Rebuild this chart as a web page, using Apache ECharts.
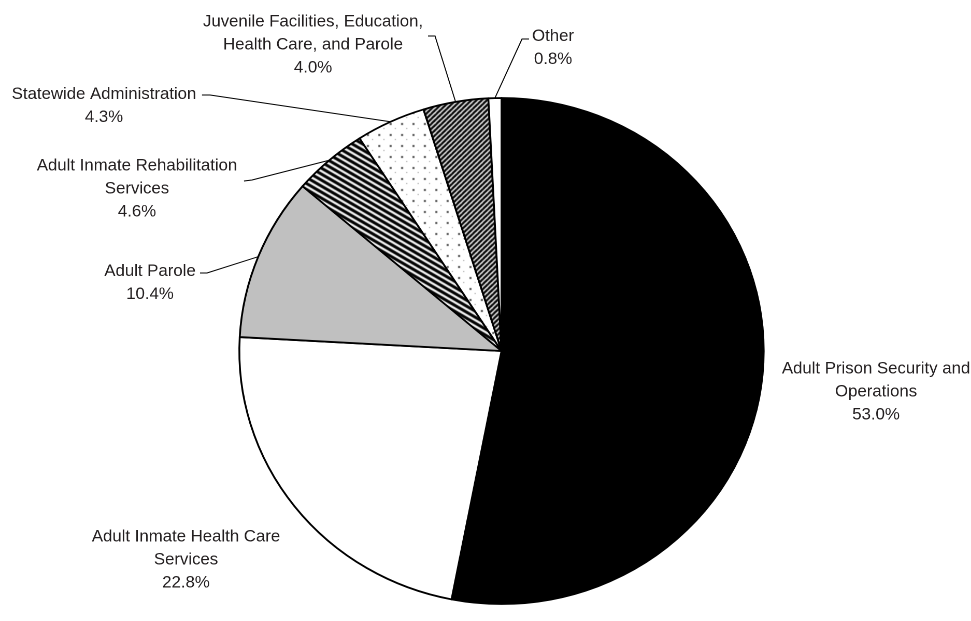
<!DOCTYPE html>
<html>
<head>
<meta charset="utf-8">
<title>Budget by Program</title>
<script src="https://cdn.jsdelivr.net/npm/echarts@6/dist/echarts.min.js"></script>
<style>
  html, body { margin: 0; padding: 0; background: #fff; overflow: hidden; }
  /* the chart is laid out slightly narrower, then widened to fill the page */
  #chart { width: 937px; height: 621px; transform: scaleX(1.0363); transform-origin: 0 0; }
</style>
</head>
<body>
<div id="chart"></div>
<script>
// Program names (line breaks as printed) and their shares of the budget, in percent
const categories = [
  'Adult Prison Security and\nOperations',
  'Adult Inmate Health Care\nServices',
  'Adult Parole',
  'Adult Inmate Rehabilitation\nServices',
  'Statewide Administration',
  'Juvenile Facilities, Education,\nHealth Care, and Parole',
  'Other'
];
const shares = [53.0, 22.8, 10.4, 4.6, 4.3, 4.0, 0.8];

// horizontal widening applied by the stylesheet; page x -> chart x
const STRETCH = 971 / 937;
function cx(x) { return x / STRETCH; }

// ---- fill patterns -------------------------------------------------------
function makeTile(w, h, draw) {
  const c = document.createElement('canvas');
  c.width = w; c.height = h;
  const ctx = c.getContext('2d');
  ctx.fillStyle = '#fff';
  ctx.fillRect(0, 0, w, h);
  draw(ctx, w, h);
  return { image: c, repeat: 'repeat' };
}

// bold diagonal stripes running down to the right
const stripeFill = makeTile(10, 6, function (ctx, w, h) {
  ctx.strokeStyle = '#000';
  ctx.lineWidth = 3;
  [-h, 0, h].forEach(function (dy) {
    ctx.beginPath();
    ctx.moveTo(-2, dy - 2 * h / w);
    ctx.lineTo(w + 2, dy + h + 2 * h / w);
    ctx.stroke();
  });
});

// sparse dot grid
const dotFill = makeTile(11, 11, function (ctx) {
  ctx.fillStyle = '#555';
  ctx.fillRect(2, 2, 2, 2);
  ctx.fillStyle = '#999';
  ctx.fillRect(7, 7, 1, 1);
});

// fine hatching running up to the right
const hatchFill = makeTile(5, 5, function (ctx, w, h) {
  ctx.strokeStyle = '#000';
  ctx.lineWidth = 2.2;
  [-w, 0, w].forEach(function (dx) {
    ctx.beginPath();
    ctx.moveTo(dx - 1, h + 1);
    ctx.lineTo(dx + w + 1, -1);
    ctx.stroke();
  });
});

const sliceFills = ['#000000', '#ffffff', '#c0c0c0', stripeFill, dotFill, hatchFill, '#ffffff'];
const showLeader = [false, false, true, true, true, true, true];

// label anchor on the page (centre x, middle y) for each slice
const labelAnchors = [
  [876, 392], [186, 560], [150, 283], [137, 189], [104, 106], [313, 45], [553, 48]
];
// bend and end of each leader line on the page, near its label
const leaderEnds = [
  null, null,
  [[207, 273], [200, 273]],
  [[252, 180], [244, 181]],
  [[210, 95], [202, 95]],
  [[435, 36], [428, 36]],
  [[522, 39], [529, 39]]
];

const chart = echarts.init(document.getElementById('chart'), null, { renderer: 'canvas', devicePixelRatio: 2 });

chart.setOption({
  animation: false,
  backgroundColor: '#ffffff',
  series: [{
    type: 'pie',
    center: [cx(501.5), 351],
    radius: 253,
    startAngle: 90,
    clockwise: true,
    avoidLabelOverlap: false,
    itemStyle: { borderColor: '#000', borderWidth: 1.8 },
    emphasis: { disabled: true },
    label: {
      show: true,
      position: 'outside',
      fontFamily: '"Liberation Sans", Arial, sans-serif',
      fontSize: 16.2,
      lineHeight: 23,
      color: '#231f20',
      formatter: function (p) { return p.name + '\n' + p.value.toFixed(1) + '%'; }
    },
    labelLine: {
      show: true,
      length: 20,
      length2: 10,
      smooth: false,
      lineStyle: { color: '#000', width: 1 }
    },
    labelLayout: function (p) {
      const a = labelAnchors[p.dataIndex];
      const out = { x: cx(a[0]), y: a[1], align: 'center', verticalAlign: 'middle' };
      const ends = leaderEnds[p.dataIndex];
      if (ends && p.labelLinePoints) {
        out.labelLinePoints = [
          p.labelLinePoints[0],
          [cx(ends[0][0]), ends[0][1]],
          [cx(ends[1][0]), ends[1][1]]
        ];
      }
      return out;
    },
    data: categories.map(function (name, i) {
      return {
        name: name,
        value: shares[i],
        itemStyle: { color: sliceFills[i] },
        labelLine: { show: showLeader[i] }
      };
    })
  }]
});
</script>
</body>
</html>
